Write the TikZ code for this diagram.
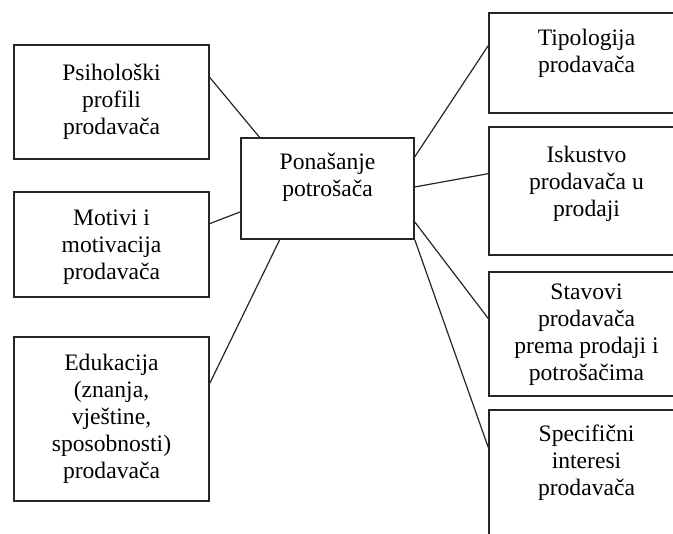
\documentclass[tikz,border=0pt]{standalone}
\usepackage{fontspec}
\setmainfont{Liberation Serif}
\usetikzlibrary{calc}

\begin{document}
\begin{tikzpicture}[x=0.5pt, y=-0.5pt]
    \tikzstyle{box} = [shape=rectangle, draw=black!85, line width=0.8pt, minimum width=97.5pt, inner sep=0pt]
    \tikzstyle{txt} = [align=center, inner sep=0pt, font=\fontsize{11.8}{13.5}\selectfont]
    \tikzstyle{link} = [draw=black!85, line width=0.6pt]
    \clip (0,0) rectangle (673,534);

    % okviri
    \node (psi) [box, minimum height=57pt]   at (111.5,102)  {};
    \node (mot) [box, minimum height=52.5pt] at (111.5,244.5) {};
    \node (edu) [box, minimum height=82pt]   at (111.5,419)  {};
    \node (cen) [box, minimum width=86.5pt, minimum height=50.5pt] at (327.5,188.5) {};
    \node (tip) [box, minimum height=50pt]   at (586.5,63)   {};
    \node (isk) [box, minimum height=64pt]   at (586.5,191)  {};
    \node (sta) [box, minimum height=62pt]   at (586.5,334)  {};
    \node (spe) [box, minimum height=75pt]   at (586.5,485)  {};

    % tekstovi
    \node (psi-t) [txt] at (psi) {Psihološki\\profili\\prodavača};
    \node (mot-t) [txt] at ($(mot)+(0,3)$) {Motivi i\\motivacija\\prodavača};
    \node (edu-t) [txt] at (edu) {Edukacija\\(znanja,\\vještine,\\sposobnosti)\\prodavača};
    \node (cen-t) [txt] at ($(cen)+(0,-11.5)$) {Ponašanje\\potrošača};
    \node (tip-t) [txt] at ($(tip)+(0,-9.5)$) {Tipologija\\prodavača};
    \node (isk-t) [txt] at ($(isk)+(0,-7.5)$) {Iskustvo\\prodavača u\\prodaji};
    \node (sta-t) [txt] at ($(sta)+(0,1)$) {Stavovi\\prodavača\\prema prodaji i\\potrošačima};
    \node (spe-t) [txt] at ($(spe)+(0,-22.5)$) {Specifični\\interesi\\prodavača};

    \draw [link] (psi.14)   -- (cen.143.6);
    \draw [link] (mot.12.4) -- (cen.195.6);
    \draw [link] (edu.20.3) -- (cen.227.4);
    \draw [link] (cen.20)   -- (tip.170.7);
    \draw [link] (cen.1)    -- (isk.170.7);
    \draw [link] (cen.-21.2) -- (sta.171.8);
    \draw [link] (cen.south east) -- (spe.159.7);
\end{tikzpicture}
\end{document}
